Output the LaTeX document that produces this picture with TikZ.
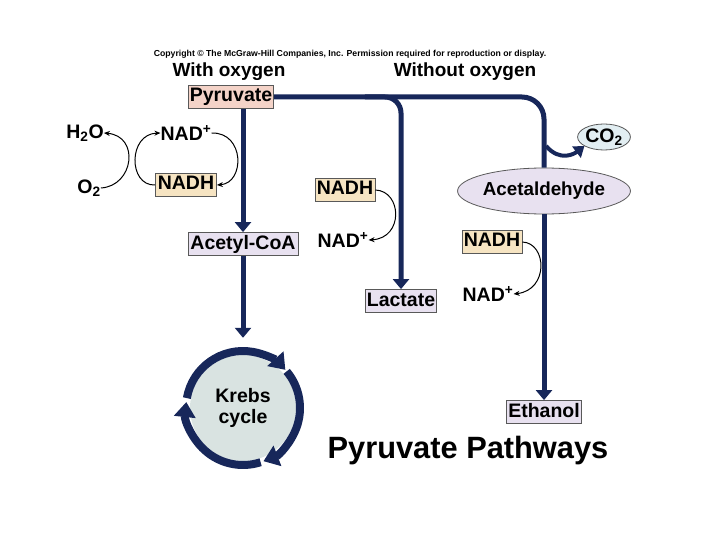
\documentclass[tikz,border=0pt]{standalone}
\usepackage{fontspec}
\setmainfont{Liberation Sans}
\usetikzlibrary{arrows.meta,shapes.geometric}
\definecolor{navy}{HTML}{17275A}
\definecolor{pyrpink}{HTML}{F4D3C8}
\definecolor{nadtan}{HTML}{F6E4C2}
\definecolor{prodlilac}{HTML}{E8E1F0}
\definecolor{cotwoblue}{HTML}{E2EEF2}
\definecolor{krebsgrey}{HTML}{D9E3E1}

\tikzset{
  chem/.style={font=\fontsize{19.5}{21}\selectfont\bfseries, inner sep=0pt},
  heading/.style={font=\fontsize{19}{21}\selectfont\bfseries, inner sep=0pt},
  molbox/.style={chem, draw=black!65, line width=0.8pt, inner xsep=1.5pt, inner ysep=2.5pt, text height=14pt, text depth=4pt},
  molellipse/.style={chem, ellipse, draw=black!65, line width=0.8pt},
  trunk/.style={draw=navy, line width=5pt},
  pathway/.style={trunk, -{Triangle[length=10pt,width=16pt]}},
  cofactor/.style={black, line width=1pt, -{Stealth[length=6pt,width=5pt]}},
  ringarrow/.style={draw=navy, line width=8pt, -{Triangle[length=15pt,width=21pt]}}
}

\begin{document}
\begin{tikzpicture}[x=1pt,y=-1pt]
\useasboundingbox (0,0) rectangle (720,540);
\node[font=\fontsize{8.7}{10}\selectfont\bfseries] (copyright) at (350,54) {Copyright © The McGraw-Hill Companies, Inc. Permission required for reproduction or display.};
\node[heading] (withox) at (229,72) {With oxygen};
\node[heading] (withoutox) at (465,72) {Without oxygen};
\node[molbox, fill=pyrpink, minimum width=84pt] (pyruvate) at (231,97) {Pyruvate};

\node[chem] (htwoo) at (85,133) {H\textsubscript{2}O};
\node[chem] (otwo) at (89,188) {O\textsubscript{2}};
\node[chem] (nadA) at (186,133) {NAD\textsuperscript{+}};
\node[molbox, fill=nadtan, minimum width=61pt] (nadhA) at (186,185) {NADH};
\node[molbox, fill=prodlilac, minimum width=110pt] (acetylcoa) at (243,244) {Acetyl-CoA};
\node[chem, circle, fill=krebsgrey, minimum size=106pt, align=center] (krebs) at (243,408) {Krebs\\cycle};

\node[molbox, fill=nadtan, minimum width=60pt] (nadhB) at (345,190) {NADH};
\node[chem] (nadB) at (343,240) {NAD\textsuperscript{+}};
\node[molbox, fill=prodlilac, minimum width=70pt] (lactate) at (401,301) {Lactate};

\node[molellipse, fill=prodlilac, minimum width=132pt, minimum height=46pt, font=\fontsize{18.8}{20}\selectfont\bfseries] (acetald) at (544,191) {Acetaldehyde};
\node[molellipse, fill=cotwoblue, minimum width=46pt, minimum height=26pt] (cotwo) at (604,137) {CO\textsubscript{2}};
\node[molbox, fill=nadtan, minimum width=60pt] (nadhC) at (492,242) {NADH};
\node[chem] (nadC) at (488,294) {NAD\textsuperscript{+}};
\node[molbox, fill=prodlilac, minimum width=74pt] (ethanol) at (544,412) {Ethanol};
\node[font=\fontsize{30.8}{32}\selectfont\bfseries, anchor=base] (title) at (468,458) {Pyruvate Pathways};

\draw[trunk, rounded corners=22pt] (pyruvate.east) -| (acetald.north);
\draw[pathway] (acetald.south) -- (ethanol.north);
\draw[pathway, rounded corners=16pt] (pyruvate.east -| lactate.west) -| (lactate.north);
\draw[pathway] (pyruvate.south -| acetylcoa) -- (acetylcoa.north);
\draw[pathway, shorten >=17pt] (acetylcoa.south) -- (acetylcoa.south |- krebs.north);
\coordinate (cobranch) at (546,146);
\draw[draw=navy, line width=4pt, -{Triangle[length=10pt,width=14pt]}] (cobranch) .. controls (560,162) and (574,154) .. (cotwo.205);

\draw[cofactor] (otwo.east) .. controls (134,186) and (140,136) .. (htwoo.east);
\draw[cofactor] (nadhA.west) .. controls (128,186) and (128,134) .. (nadA.west);
\draw[cofactor] (nadA.east) .. controls (245,132) and (245,183) .. (nadhA.east);
\draw[cofactor] (nadhB.east) .. controls (402,191) and (404,238) .. (nadB.east);
\draw[cofactor] (nadhC.east) .. controls (547,243) and (549,290) .. (nadC.east);

\draw[ringarrow] (krebs.center) ++(-40:57) arc[start angle=-40, end angle=69, radius=57];
\draw[ringarrow] (krebs.center) ++(72:57) arc[start angle=72, end angle=186, radius=57];
\draw[ringarrow] (krebs.center) ++(190:57) arc[start angle=190, end angle=318, radius=57];
\end{tikzpicture}
\end{document}
